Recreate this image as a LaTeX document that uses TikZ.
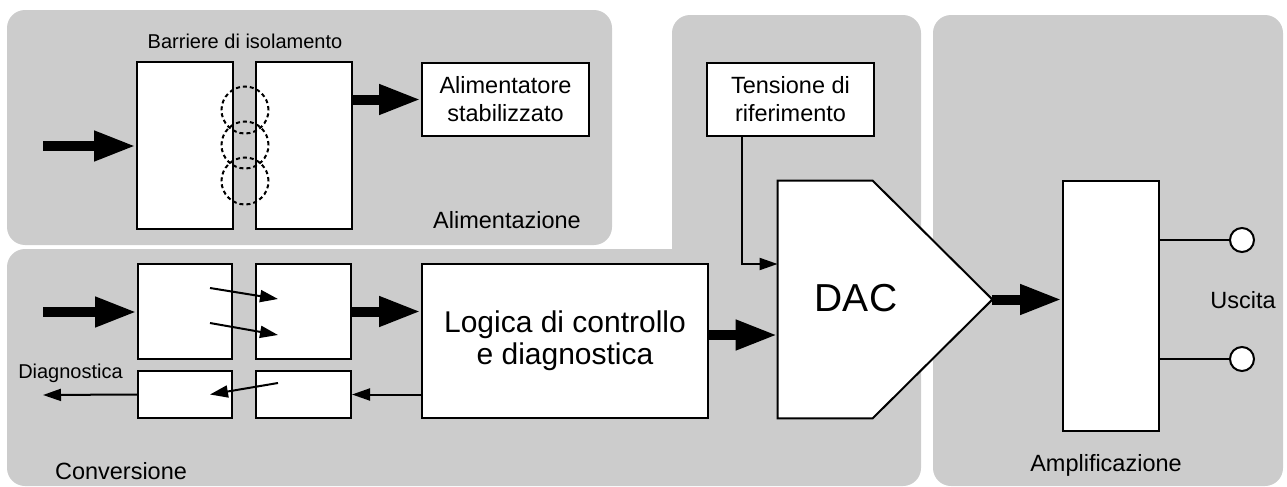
\documentclass[tikz,border=0pt]{standalone}
\usepackage{fontspec}
\setmainfont{Liberation Sans}
\usetikzlibrary{arrows.meta}
\definecolor{panelgray}{RGB}{204,204,204}

\begin{document}
\begin{tikzpicture}[x=0.5pt,y=-0.5pt,
    panel/.style={fill=panelgray,rounded corners=9pt},
    blockbox/.style={draw,fill=white,line width=1pt,inner sep=0pt},
    bigarrow/.style={line width=5pt,-{Triangle[length=21pt,width=14pt]}},
    thinarrow/.style={line width=1pt,-{Triangle[length=9pt,width=6pt]}},
    lbl/.style={font=\fontsize{11.75}{14}\selectfont,inner sep=0pt,align=center},
    small/.style={font=\fontsize{10}{12}\selectfont,inner sep=0pt}]
  \useasboundingbox (0,0) rectangle (1287,487);
  % panels
  \fill[panel] (7,10) rectangle (612,245);
  \fill[panel] (672,15) rectangle (921,350);
  \fill[panel] (7,249) rectangle (921,486);
  \fill[panel] (933,15) rectangle (1283,486);

  % alimentazione
  \node[blockbox,minimum width=48pt,minimum height=83.5pt] (barL) at (185,145.5) {};
  \node[blockbox,minimum width=48pt,minimum height=83.5pt] (barR) at (304,145.5) {};
  \foreach \y in {110,145,181}
    \draw[line width=1pt,dash pattern=on 2pt off 1.5pt] (245,\y) circle[radius=11.75pt];
  \node[small] (barlabel) at (245,41) {Barriere di isolamento};
  \node[blockbox,lbl,minimum width=83.5pt,minimum height=36.5pt] (alim) at (505.5,99.5) {Alimentatore\\stabilizzato};
  \coordinate (ain) at (43,146);
  \draw[bigarrow] (ain) -- (ain -| barL.west);
  \draw[bigarrow] (barR.east |- alim.west) -- (alim.west);
  \node[lbl] (alimlabel) at (507,220) {Alimentazione};

  % conversione
  \node[blockbox,minimum width=47pt,minimum height=47.5pt] (convA) at (185,311.5) {};
  \node[blockbox,minimum width=47.5pt,minimum height=47.5pt] (convB) at (303.5,311.5) {};
  \node[blockbox,minimum width=47pt,minimum height=23.5pt] (convC) at (185,394.5) {};
  \node[blockbox,minimum width=47.5pt,minimum height=23.5pt] (convD) at (303.5,394.5) {};
  \node[blockbox,minimum width=143pt,minimum height=77pt,font=\fontsize{15}{16}\selectfont,align=center] (logic) at (565,341) {Logica di controllo\\e diagnostica};
  \coordinate (cin) at (43,312);
  \coordinate (dout) at (43,395);
  \draw[bigarrow] (cin) -- (cin -| convA.west);
  \draw[bigarrow] (convB.east) -- (convB.east -| logic.west);
  \draw[thinarrow] (convD.east -| logic.west) -- (convD.east);
  \draw[thinarrow] (convC.west) -- (dout);
  \draw[thinarrow] ([shift={(-11.5pt,11.75pt)}]convA.east) -- ([shift={(11.5pt,6.25pt)}]convB.west);
  \draw[thinarrow] ([shift={(-11.5pt,-5.75pt)}]convA.east) -- ([shift={(11.5pt,-11.75pt)}]convB.west);
  \draw[thinarrow] ([shift={(11.5pt,5.75pt)}]convD.west) -- ([shift={(-11.5pt,0pt)}]convC.east);
  \node[small] (diaglabel) at (70.5,373) {Diagnostica};
  \node[lbl] (convlabel) at (121,471) {Conversione};

  % DAC
  \node[blockbox,lbl,minimum width=83.5pt,minimum height=36.5pt] (tens) at (790.5,99.5) {Tensione di\\riferimento};
  \node[minimum width=107pt,minimum height=118.5pt,inner sep=0pt] (dac) at (885,299.5) {};
  \draw[line width=1pt,fill=white] (dac.north west) -- ([xshift=47.5pt]dac.north west) -- (dac.east)
    -- ([xshift=47.5pt]dac.south west) -- (dac.south west) -- cycle;
  \node[font=\fontsize{19.5}{22}\selectfont,inner sep=0pt] (dactext) at (856,298) {DAC};
  \draw[thinarrow] ([xshift=18pt]tens.south west) |- ([yshift=17.75pt]dac.west);
  \draw[bigarrow] ([yshift=3pt]logic.east) -- ([yshift=-17.75pt]dac.west);

  % amplificazione
  \node[blockbox,minimum width=48pt,minimum height=125pt] (amp) at (1111,306) {};
  \node[draw,circle,fill=white,line width=1pt,minimum size=12pt,inner sep=0pt] (out1) at (1242,240) {};
  \node[draw,circle,fill=white,line width=1pt,minimum size=12pt,inner sep=0pt] (out2) at (1242,359) {};
  \draw[line width=1pt] (amp.east |- out1) -- (out1);
  \draw[line width=1pt] (amp.east |- out2) -- (out2);
  \draw[bigarrow] (dac.east) -- (dac.east -| amp.west);
  \node[lbl] (outlabel) at (1243,300) {Uscita};
  \node[lbl] (amplabel) at (1106,465) {Amplificazione};
\end{tikzpicture}
\end{document}
